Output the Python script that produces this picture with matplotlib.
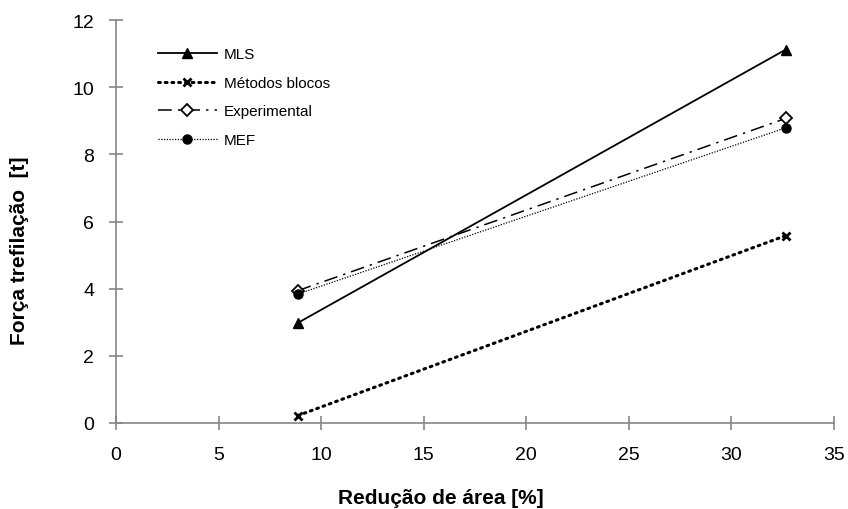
import numpy as np
import matplotlib
matplotlib.use('Agg')
from matplotlib import pyplot as plt

reducao = [8.86, 32.65]
mls = [2.98, 11.12]
metodos_blocos = [0.22, 5.58]
experimental = [3.94, 9.07]
mef = [3.84, 8.79]

plt.rcParams['font.family'] = ['Liberation Sans', 'DejaVu Sans']

fig = plt.figure(figsize=(8.48, 5.10), dpi=100)
# eixo: x de 116 a 834 px, y de 21 a 424 px
ax = fig.add_axes([116 / 848, 86 / 510, 718 / 848, 403 / 510])

ax.plot(reducao, mls, color='black', lw=1.3, marker='^', ms=6.5, label='MLS')
ax.plot(reducao, metodos_blocos, color='black', lw=2.2, ls=(0, (0.6, 1.6)),
        dash_capstyle='round', marker='x', ms=6, mew=2, label='Métodos blocos')
ax.plot(reducao, experimental, color='black', lw=1.1, ls=(0, (9, 4, 1.5, 4)),
        marker='D', ms=6.5, mfc='white', mew=1.3, label='Experimental')
ax.plot(reducao, mef, color='black', lw=0.9, ls=(0, (1, 1.2)),
        marker='o', ms=6.5, label='MEF')

ax.set_xlim(0, 35)
ax.set_ylim(0, 12)
ax.set_xticks(np.arange(0, 36, 5))
ax.set_yticks(np.arange(0, 13, 2))
for s in ['top', 'right']:
    ax.spines[s].set_visible(False)
for s in ['left', 'bottom']:
    ax.spines[s].set_color('#868686')
    ax.spines[s].set_linewidth(1.2)
ax.tick_params(direction='inout', length=9.5, width=1.2, color='#868686',
               labelsize=14)
ax.tick_params(axis='x', pad=12)
ax.tick_params(axis='y', pad=11)

ax.set_xlabel('Redução de área [%]', fontsize=15, fontweight='bold', va='center')
ax.xaxis.set_label_coords(0.453, -0.186)
ax.set_ylabel('Força trefilação  [t]', fontsize=15, fontweight='bold', va='center')
ax.yaxis.set_label_coords(-0.134, 0.429)

ax.legend(loc='upper left', bbox_to_anchor=(0.0585, 0.932), frameon=False,
          fontsize=11, handlelength=3.86, handletextpad=0.46,
          labelspacing=0.95, borderpad=0, borderaxespad=0)

fig.savefig('out.png', dpi=100)
